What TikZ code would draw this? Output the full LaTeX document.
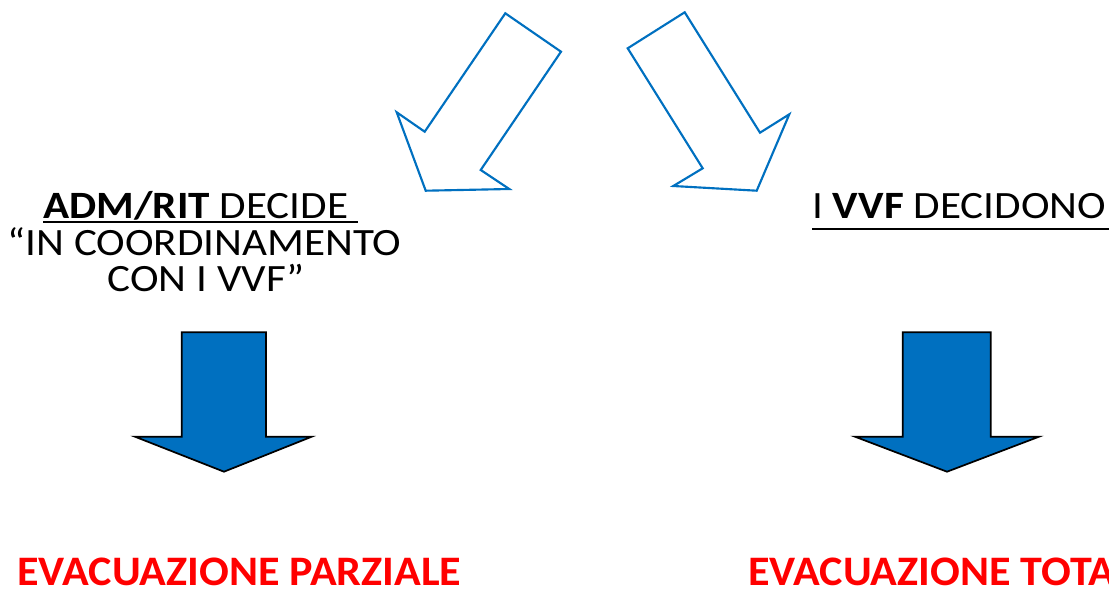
\documentclass[tikz,border=0pt]{standalone}
\usepackage{fontspec}
\setmainfont{Carlito}
\newfontfamily\widefont[FakeStretch=1.115]{Carlito}
\newfontfamily\redfont[FakeStretch=1.05]{Carlito}
\definecolor{arrowblue}{HTML}{0070C0}
\definecolor{evacred}{HTML}{FF0000}

\begin{document}
\begin{tikzpicture}[x=0.75pt,y=-0.75pt,
  hollowarrow/.style={draw=arrowblue, line width=1.6pt, line join=miter},
  fullarrow/.style={fill=arrowblue, draw=black, line width=1.3pt, line join=miter},
  decision/.style={inner sep=0pt, font=\widefont\fontsize{29}{35}\selectfont},
  outcome/.style={inner sep=0pt, text=evacred, font=\redfont\fontsize{31.5}{38}\selectfont\bfseries}]
\useasboundingbox (0,0) rectangle (1109,589);
\clip (0,0) rectangle (1109,589);

% the two hollow arrows on top
\draw[hollowarrow] (505.3,13.3) -- (561,51.7) -- (480.7,170) -- (509.3,189) -- (425.7,190.7) -- (396.7,112.3) -- (424.7,131.7) -- cycle;
\draw[hollowarrow] (684.7,12.3) -- (627.7,48.3) -- (702.7,168.3) -- (673.3,186) -- (756.7,190.7) -- (789.3,114.3) -- (760,132.7) -- cycle;

% left branch
\node[decision, anchor=base west] (adm) at (43,218) {\textbf{ADM/RIT} DECIDE};
\draw[line width=1.5pt] ([yshift=-3pt]adm.base west) -- ([xshift=7pt,yshift=-3pt]adm.base east);
\node[decision, anchor=base] (coord) at (204.5,255) {“IN COORDINAMENTO};
\node[decision, anchor=base] (convvf) at (206,291.7) {CON I VVF”};
\filldraw[fullarrow] (181.7,332.3) -- (266,332.3) -- (266,436.7) -- (311.7,436.7) -- (224,471.7) -- (135,436.7) -- (181.7,436.7) -- cycle;
\node[outcome, anchor=base west] (parziale) at (17,585) {EVACUAZIONE PARZIALE};

% right branch
\node[decision, anchor=base west] (vvf) at (812,218) {I \textbf{VVF} DECIDONO};
\draw[line width=1.8pt] ([yshift=-8.2pt]vvf.base west) -- ([xshift=2pt,yshift=-8.2pt]vvf.base east);
\filldraw[fullarrow] (902.7,332.3) -- (990.7,332.3) -- (990.7,436.7) -- (1039,436.7) -- (947,471.7) -- (855,436.7) -- (902.7,436.7) -- cycle;
\node[outcome, anchor=base west] (totale) at (748,585) {EVACUAZIONE TOTALE};
\end{tikzpicture}
\end{document}
